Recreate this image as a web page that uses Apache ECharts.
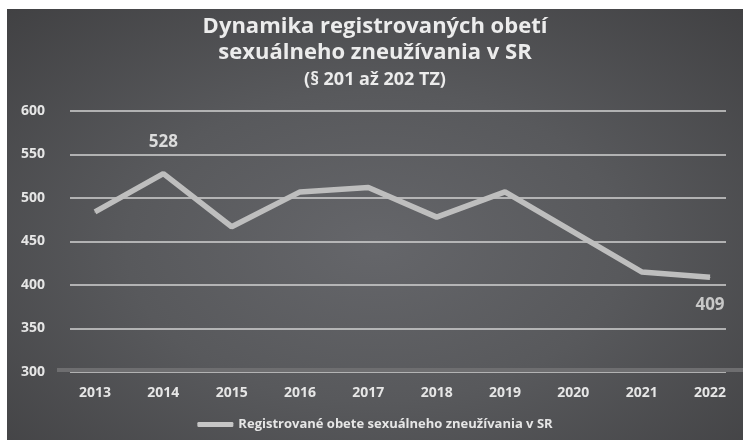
<!DOCTYPE html>
<html>
<head>
<meta charset="utf-8">
<script src="https://cdn.jsdelivr.net/npm/echarts@6/dist/echarts.min.js"></script>
<style>
  html, body { margin: 0; padding: 0; background: #fff; }
  #chart {
    position: absolute; left: 7px; top: 9px; width: 736px; height: 431px;
    background: radial-gradient(ellipse 75% 80% at 50% 55%, #65666a 0%, #58595c 45%, #3f3f41 100%);
  }
</style>
</head>
<body>
<div id="chart"></div>
<script>
// data
const years = [2013, 2014, 2015, 2016, 2017, 2018, 2019, 2020, 2021, 2022];
const victims = [484, 528, 467, 507, 512, 478, 507, 461, 415, 409];
const yTicks = [300, 350, 400, 450, 500, 550, 600];
const seriesName = 'Registrované obete sexuálneho zneužívania v SR';
// which points carry a value label, and where
const labelledYears = [2014, 2022];
const labelSides = ['top', 'bottom'];

const chart = echarts.init(document.getElementById('chart'), null, { renderer: 'canvas' });

const font = '"Open Sans", "DejaVu Sans", sans-serif';
const lineColor = '#bebebe';

const seriesData = years.map((y, i) => {
  const k = labelledYears.indexOf(y);
  const item = { value: [y, victims[i]] };
  if (k >= 0) {
    item.label = {
      show: true,
      position: labelSides[k],
      distance: labelSides[k] === 'top' ? 22 : 19,
      color: labelSides[k] === 'top' ? '#dcdcdc' : '#c8c8c8'
    };
  }
  return item;
});

const option = {
  animation: false,
  backgroundColor: 'transparent',
  title: {
    left: 'center',
    top: 0,
    textStyle: {
      rich: {
        a: { fontFamily: font, fontWeight: 'bold', fontSize: 22, color: '#ececec', lineHeight: 26 },
        b: { fontFamily: font, fontWeight: 'bold', fontSize: 18, color: '#ececec', lineHeight: 28 }
      }
    },
    text: '{a|Dynamika registrovaných obetí}\n{a|sexuálneho zneužívania v SR}\n{b|(§ 201 až 202 TZ)}'
  },
  legend: {
    bottom: 4,
    left: 'center',
    icon: 'roundRect',
    itemWidth: 36,
    itemHeight: 5,
    itemGap: 6,
    textStyle: { color: '#e6e6e6', fontFamily: font, fontWeight: 'bold', fontSize: 13 },
    data: [{ name: seriesName, itemStyle: { color: '#c6c6c6' } }]
  },
  grid: { left: 63, top: 102, width: 656, height: 261, containLabel: false },
  xAxis: {
    type: 'value',
    min: 2012.634,
    max: 2022.234,
    splitLine: { show: false },
    axisTick: { show: false },
    axisLine: { show: false },
    axisLabel: {
      customValues: years,
      formatter: v => String(v),
      margin: 14,
      color: '#e6e6e6',
      fontFamily: font,
      fontWeight: 'bold',
      fontSize: 14
    }
  },
  yAxis: {
    type: 'value',
    min: yTicks[0],
    max: yTicks[yTicks.length - 1],
    interval: 50,
    axisLine: { show: false },
    axisTick: { show: false },
    axisLabel: {
      margin: 25,
      color: '#e6e6e6',
      fontFamily: font,
      fontWeight: 'bold',
      fontSize: 14
    },
    splitLine: { lineStyle: { color: '#d2d2d2', width: 1.5 } }
  },
  series: [
    {
      name: seriesName,
      type: 'line',
      data: seriesData,
      showSymbol: true,
      symbol: 'circle',
      symbolSize: 1,
      itemStyle: { color: lineColor, borderWidth: 0 },
      color: lineColor,
      lineStyle: { color: lineColor, width: 5.5 },
      label: {
        show: false,
        formatter: p => String(p.value[1]),
        fontFamily: font,
        fontWeight: 'bold',
        fontSize: 17
      },
      z: 5
    }
  ]
};

chart.setOption(option);

// shaded base band along the 300 line, running past the grid like the original
const baseY = chart.convertToPixel({ yAxisIndex: 0 }, yTicks[0]);
chart.setOption({
  graphic: [{
    type: 'rect',
    z: 1,
    shape: { x: 50, y: baseY - 4, width: 700, height: 4 },
    style: { fill: '#6e6e70' },
    silent: true
  }]
});
</script>
</body>
</html>
